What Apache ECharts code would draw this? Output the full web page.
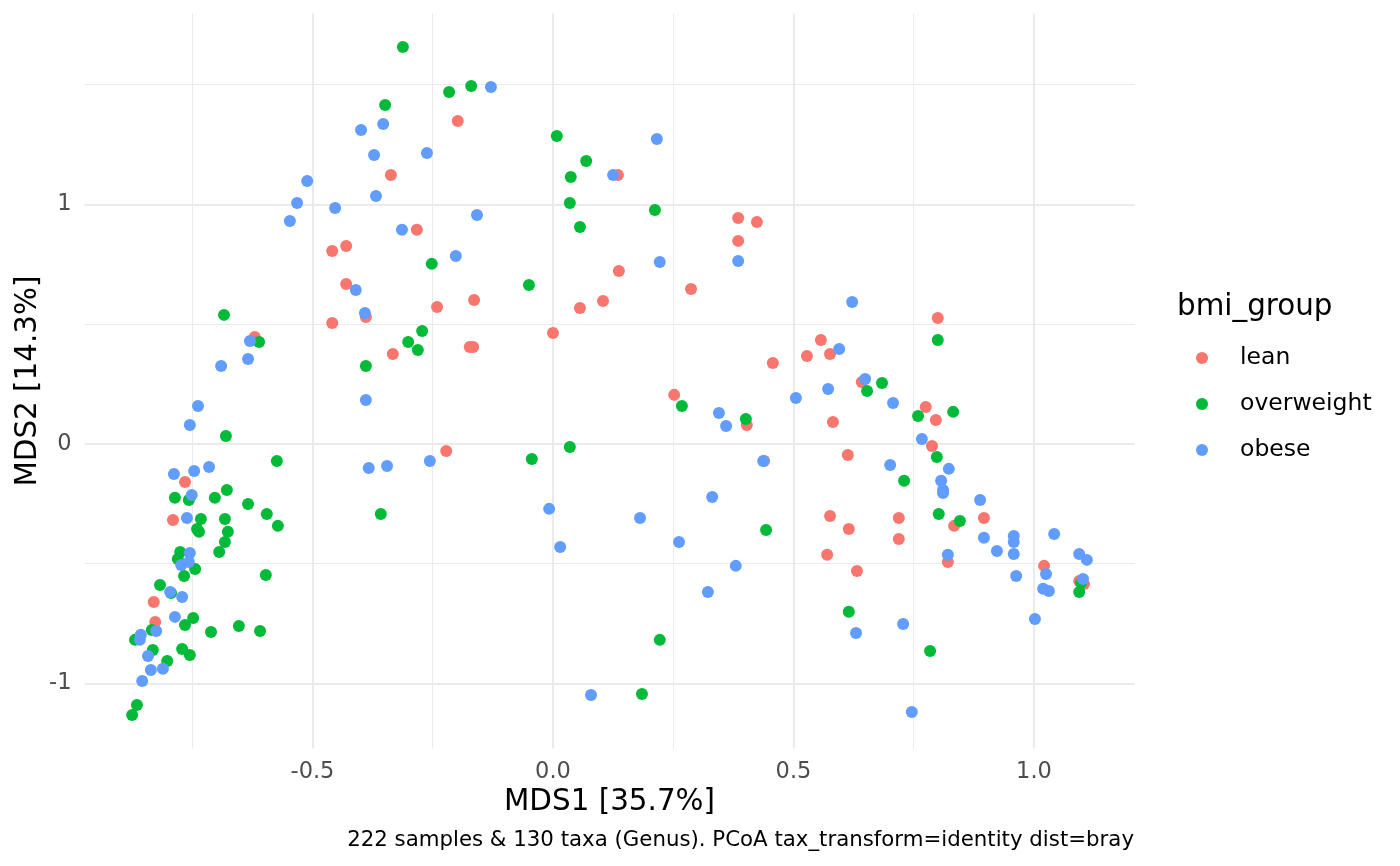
<!DOCTYPE html>
<html lang="en">
<head>
    <meta charset="UTF-8">
    <title>pcoa</title>
    <script src="https://cdn.jsdelivr.net/npm/echarts@6/dist/echarts.min.js"></script>
    <style>
        html, body { margin: 0; padding: 0; background: #fff; }
        #chart { width: 1400px; height: 866px; }
    </style>
</head>
<body>
    <div id="chart"></div>
</body>
<script type="application/javascript">

    // ordination coordinates [MDS1, MDS2] per bmi group
    var lean = [
        [-0.198, 1.349], [-0.337, 1.123], [0.135, 1.123], [-0.283, 0.894], [0.385, 0.944],
        [0.424, 0.927], [0.385, 0.848], [-0.459, 0.806], [-0.430, 0.827], [0.137, 0.722],
        [-0.430, 0.668], [0.287, 0.647], [-0.164, 0.601], [0.104, 0.597], [-0.241, 0.572],
        [0.056, 0.568], [-0.389, 0.530], [-0.459, 0.505], [0.000, 0.463], [-0.620, 0.447],
        [-0.173, 0.405], [-0.166, 0.405], [-0.333, 0.376], [0.800, 0.526], [0.557, 0.434],
        [0.528, 0.367], [0.576, 0.376], [0.457, 0.338], [0.642, 0.259], [0.252, 0.205],
        [0.775, 0.154], [0.796, 0.100], [0.403, 0.079], [0.582, 0.092], [0.788, -0.008],
        [-0.222, -0.029], [0.613, -0.046], [0.439, -0.071], [-0.765, -0.159], [0.576, -0.301],
        [0.719, -0.309], [0.896, -0.309], [-0.790, -0.317], [0.834, -0.342], [0.615, -0.355],
        [0.719, -0.397], [0.570, -0.463], [0.821, -0.493], [1.021, -0.509], [0.632, -0.530],
        [1.094, -0.572], [1.104, -0.585], [-0.830, -0.660], [-0.827, -0.743]
    ];
    var overweight = [
        [-0.312, 1.658], [-0.216, 1.470], [-0.170, 1.495], [-0.349, 1.415], [0.008, 1.286],
        [0.069, 1.182], [0.037, 1.115], [0.035, 1.006], [0.212, 0.977], [0.056, 0.906],
        [-0.252, 0.752], [-0.050, 0.664], [-0.684, 0.539], [-0.611, 0.426], [-0.272, 0.472],
        [-0.301, 0.426], [-0.281, 0.392], [-0.389, 0.326], [0.800, 0.434], [0.684, 0.255],
        [0.653, 0.221], [0.268, 0.159], [0.832, 0.134], [0.759, 0.117], [0.401, 0.104],
        [-0.680, 0.033], [0.035, -0.013], [0.798, -0.054], [-0.044, -0.063], [-0.574, -0.071],
        [0.730, -0.154], [-0.786, -0.225], [-0.757, -0.234], [-0.703, -0.225], [-0.678, -0.192],
        [-0.634, -0.251], [-0.595, -0.292], [-0.358, -0.292], [0.802, -0.292], [-0.732, -0.313],
        [-0.682, -0.313], [0.846, -0.322], [-0.572, -0.342], [-0.740, -0.355], [-0.736, -0.367],
        [-0.676, -0.367], [0.443, -0.359], [-0.682, -0.409], [-0.694, -0.451], [-0.775, -0.451],
        [-0.780, -0.480], [-0.744, -0.522], [-0.767, -0.551], [-0.597, -0.547], [1.094, -0.618],
        [-0.817, -0.589], [-0.794, -0.622], [0.615, -0.701], [-0.748, -0.727], [-0.765, -0.756],
        [-0.653, -0.760], [-0.834, -0.777], [-0.711, -0.785], [-0.609, -0.781], [-0.869, -0.818],
        [0.222, -0.818], [-0.832, -0.860], [-0.771, -0.856], [-0.755, -0.881], [0.784, -0.864],
        [-0.802, -0.906], [0.185, -1.044], [-0.865, -1.090], [-0.875, -1.132], [1.098, -0.580]
    ];
    var obese = [
        [-0.129, 1.491], [0.216, 1.273], [-0.399, 1.311], [-0.353, 1.336], [-0.372, 1.207],
        [-0.262, 1.215], [-0.511, 1.098], [0.125, 1.123], [-0.532, 1.006], [-0.453, 0.985],
        [-0.368, 1.035], [-0.158, 0.956], [-0.547, 0.931], [-0.314, 0.894], [-0.202, 0.785],
        [0.222, 0.760], [0.385, 0.764], [-0.410, 0.643], [0.622, 0.593], [-0.391, 0.547],
        [-0.630, 0.430], [-0.634, 0.355], [-0.690, 0.326], [0.595, 0.397], [0.649, 0.271],
        [0.572, 0.230], [0.505, 0.192], [-0.389, 0.184], [0.707, 0.171], [-0.738, 0.159],
        [0.345, 0.129], [-0.755, 0.079], [0.360, 0.075], [0.767, 0.021], [-0.256, -0.071],
        [0.437, -0.071], [-0.383, -0.100], [-0.345, -0.092], [0.701, -0.088], [0.823, -0.104],
        [-0.788, -0.125], [-0.746, -0.113], [-0.715, -0.096], [0.807, -0.154], [0.811, -0.192],
        [0.811, -0.205], [-0.751, -0.213], [0.331, -0.221], [0.888, -0.234], [-0.008, -0.271],
        [-0.761, -0.309], [0.181, -0.309], [1.042, -0.376], [0.896, -0.392], [0.958, -0.384],
        [0.958, -0.409], [0.958, -0.459], [0.262, -0.409], [0.015, -0.430], [0.923, -0.447],
        [-0.755, -0.455], [0.821, -0.463], [1.094, -0.459], [1.110, -0.484], [-0.773, -0.505],
        [-0.757, -0.493], [1.025, -0.543], [0.380, -0.509], [0.963, -0.551], [1.102, -0.564],
        [1.019, -0.605], [1.031, -0.614], [0.322, -0.618], [-0.796, -0.618], [-0.771, -0.639],
        [-0.786, -0.722], [1.002, -0.731], [0.728, -0.752], [-0.825, -0.781], [0.630, -0.789],
        [-0.857, -0.797], [-0.859, -0.818], [-0.842, -0.885], [-0.836, -0.944], [-0.811, -0.939],
        [-0.854, -0.990], [0.079, -1.048], [0.746, -1.119]
    ];

    var groups = ['lean', 'overweight', 'obese'];
    var groupColors = ['#F8766D', '#00BA38', '#619CFF'];

    var xMajor = [-0.5, 0, 0.5, 1];
    var xMinor = [-0.75, -0.25, 0.25, 0.75];
    var yMajor = [-1, 0, 1];
    var yMinor = [-0.5, 0.5, 1.5];

    var FONT = 'DejaVu Sans';

    var chart = echarts.init(document.getElementById('chart'));

    // grid lines drawn as mark lines so they sit under the points
    var gridLines = [];
    xMajor.forEach(function (v) { gridLines.push({ xAxis: v, lineStyle: { width: 2 } }); });
    xMinor.forEach(function (v) { gridLines.push({ xAxis: v, lineStyle: { width: 1 } }); });
    yMajor.forEach(function (v) { gridLines.push({ yAxis: v, lineStyle: { width: 2 } }); });
    yMinor.forEach(function (v) { gridLines.push({ yAxis: v, lineStyle: { width: 1 } }); });

    var series = [{
        name: 'grid',
        type: 'scatter',
        data: [],
        silent: true,
        markLine: {
            silent: true,
            z: 0,
            symbol: 'none',
            label: { show: false },
            lineStyle: { color: '#EBEBEB', type: 'solid' },
            emphasis: { disabled: true },
            animation: false,
            data: gridLines
        }
    }];
    var pts = [lean, overweight, obese];
    groups.forEach(function (g, i) {
        series.push({
            name: g,
            type: 'scatter',
            data: pts[i],
            symbol: 'circle',
            symbolSize: 12,
            itemStyle: { color: groupColors[i], opacity: 1 },
            z: 2
        });
    });

    var legends = groups.map(function (g, i) {
        return {
            data: [g],
            left: 1196,
            top: 346 + i * 46,
            orient: 'vertical',
            padding: 0,
            icon: 'circle',
            itemWidth: 66,
            itemHeight: 12,
            selectedMode: false,
            textStyle: { fontFamily: FONT, fontSize: 23.5, color: '#000', lineHeight: 24 }
        };
    });

    var option = {
        animation: false,
        backgroundColor: '#fff',
        color: groupColors,
        title: {
            text: 'bmi_group',
            left: 1177,
            top: 291,
            padding: 0,
            textStyle: { fontFamily: FONT, fontSize: 29.4, fontWeight: 'normal', color: '#000', lineHeight: 32 }
        },
        legend: legends,
        grid: { left: 84.5, right: 265.5, top: 13.6, bottom: 117.4 },
        xAxis: {
            type: 'value',
            min: -0.974,
            max: 1.209,
            name: 'MDS1 [35.7%]',
            nameLocation: 'middle',
            nameGap: 39,
            nameMoveOverlap: false,
            nameTextStyle: { fontFamily: FONT, fontSize: 29.4, color: '#000' },
            axisLine: { show: false },
            axisTick: { show: false, customValues: xMajor },
            splitLine: { show: false },
            axisLabel: {
                customValues: xMajor,
                margin: 12,
                fontFamily: FONT,
                fontSize: 22.5,
                color: '#4D4D4D',
                formatter: function (v) { return v.toFixed(1); }
            }
        },
        yAxis: {
            type: 'value',
            min: -1.272,
            max: 1.797,
            name: 'MDS2 [14.3%]',
            nameLocation: 'middle',
            nameGap: 42,
            nameRotate: 90,
            nameMoveOverlap: false,
            nameTextStyle: { fontFamily: FONT, fontSize: 29.4, color: '#000' },
            axisLine: { show: false },
            axisTick: { show: false, customValues: yMajor },
            splitLine: { show: false },
            axisLabel: {
                customValues: yMajor,
                margin: 13,
                fontFamily: FONT,
                fontSize: 22.5,
                color: '#4D4D4D',
                formatter: function (v) { return String(v); }
            }
        },
        graphic: [{
            type: 'text',
            right: 266,
            top: 830,
            style: {
                text: '222 samples & 130 taxa (Genus). PCoA tax_transform=identity dist=bray',
                fontFamily: FONT,
                fontSize: 21.3,
                fill: '#000'
            }
        }],
        series: series
    };
    chart.setOption(option);
</script>
</html>
